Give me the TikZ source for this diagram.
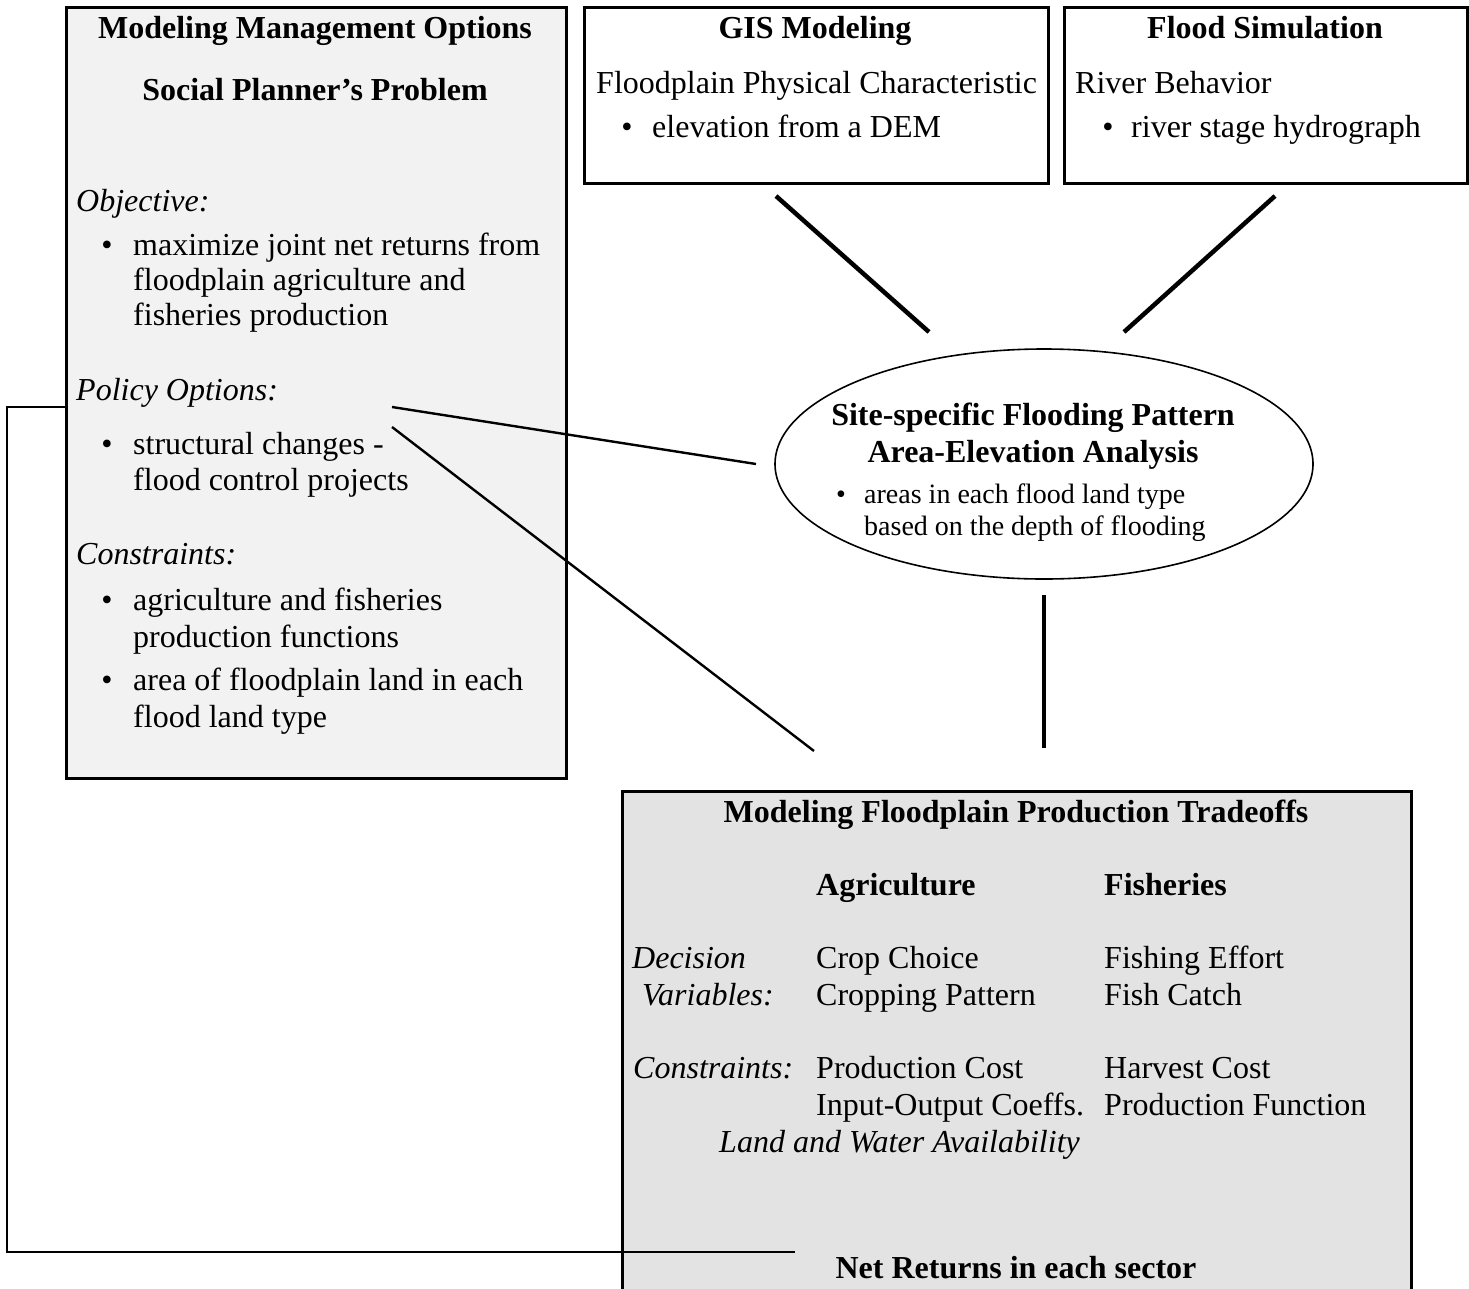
\documentclass[tikz,border=0pt]{standalone}
\usepackage{fontspec}
\setmainfont{Liberation Serif}
\usetikzlibrary{shapes.geometric}
\definecolor{boxA}{HTML}{F2F2F2}
\definecolor{boxB}{HTML}{E3E3E3}
\begin{document}
\begin{tikzpicture}[x=1pt,y=-1pt,
  frame/.style={draw=black, line width=3pt, rectangle, inner sep=0pt, anchor=north west},
  t/.style={anchor=base west, inner sep=0pt, font=\fontsize{32}{37}\selectfont},
  tb/.style={anchor=base west, inner sep=0pt, font=\fontsize{32}{37}\selectfont\bfseries},
  ti/.style={anchor=base west, inner sep=0pt, font=\fontsize{32}{37}\selectfont\itshape},
  tc/.style={anchor=base, inner sep=0pt, font=\fontsize{32}{37}\selectfont\bfseries},
  bul/.style={anchor=base, inner sep=0pt, font=\fontsize{32}{37}\selectfont},
  sm/.style={anchor=base west, inner sep=0pt, font=\fontsize{28}{32}\selectfont},
  smbul/.style={anchor=base, inner sep=0pt, font=\fontsize{28}{32}\selectfont},
  heavy/.style={line width=4.5pt},
  light/.style={line width=2.4pt}
]
\useasboundingbox (0,0) rectangle (1469,1288);

% boxes
\node[frame, fill=boxA, minimum width=500pt, minimum height=771pt] (mgmt) at (65,6) {};
\node[frame, fill=white, minimum width=464pt, minimum height=176pt] (gis) at (583,6) {};
\node[frame, fill=white, minimum width=403pt, minimum height=176pt] (flood) at (1063,6) {};
\node[draw, ellipse, line width=1.6pt, fill=white, minimum width=538pt, minimum height=230pt, inner sep=0pt] (site) at (1044,464) {};
\node[frame, fill=boxB, minimum width=789pt, minimum height=499pt] (prod) at (621,790) {};

% left box text
\node[tc] (m1) at (315,38) {Modeling Management Options};
\node[tc] (m2) at (315,100) {Social Planner's Problem};
\node[ti] (m3) at (76,211) {Objective:};
\node[bul] (m4b) at (107,255) {\textbullet};
\node[t] (m4) at (133,255) {maximize joint net returns from};
\node[t] (m5) at (133,290) {floodplain agriculture and};
\node[t] (m6) at (133,325) {fisheries production};
\node[ti] (m7) at (76,400) {Policy Options:};
\node[bul] (m8b) at (107,454) {\textbullet};
\node[t] (m8) at (133,454) {structural changes -};
\node[t] (m9) at (133,490) {flood control projects};
\node[ti] (m10) at (76,564) {Constraints:};
\node[bul] (m11b) at (107,610) {\textbullet};
\node[t] (m11) at (133,610) {agriculture and fisheries};
\node[t] (m12) at (133,647) {production functions};
\node[bul] (m13b) at (107,690) {\textbullet};
\node[t] (m13) at (133,690) {area of floodplain land in each};
\node[t] (m14) at (133,727) {flood land type};

% GIS box text
\node[tc] (g1) at (815,38) {GIS Modeling};
\node[t] (g2) at (596,93) {Floodplain Physical Characteristic};
\node[bul] (g3b) at (627,137) {\textbullet};
\node[t] (g3) at (652,137) {elevation from a DEM};

% Flood box text
\node[tc] (f1) at (1265,38) {Flood Simulation};
\node[t] (f2) at (1075,93) {River Behavior};
\node[bul] (f3b) at (1108,137) {\textbullet};
\node[t] (f3) at (1131,137) {river stage hydrograph};

% ellipse text
\node[tc] (s1) at (1033,425) {Site-specific Flooding Pattern};
\node[tc] (s2) at (1033,462) {Area-Elevation Analysis};
\node[smbul] (s3b) at (841,503) {\textbullet};
\node[sm] (s3) at (864,503) {areas in each flood land type};
\node[sm] (s4) at (864,535) {based on the depth of flooding};

% production box text
\node[tc] (p1) at (1016,822) {Modeling Floodplain Production Tradeoffs};
\node[tb] (p2) at (816,895) {Agriculture};
\node[tb] (p3) at (1104,895) {Fisheries};
\node[ti] (p4) at (632,968) {Decision};
\node[t] (p5) at (816,968) {Crop Choice};
\node[t] (p6) at (1104,968) {Fishing Effort};
\node[ti] (p7) at (642,1005) {Variables:};
\node[t] (p8) at (816,1005) {Cropping Pattern};
\node[t] (p9) at (1104,1005) {Fish Catch};
\node[ti] (p10) at (633,1078) {Constraints:};
\node[t] (p11) at (816,1078) {Production Cost};
\node[t] (p12) at (1104,1078) {Harvest Cost};
\node[t] (p13) at (816,1115) {Input-Output Coeffs.};
\node[t] (p14) at (1104,1115) {Production Function};
\node[ti] (p15) at (719,1152) {Land and Water Availability};
\node[tc] (p16) at (1016,1278) {Net Returns in each sector};

% connector end points
\coordinate (gA) at (776,196);
\coordinate (gB) at (929,332);
\coordinate (fA) at (1275,196);
\coordinate (fB) at (1124,332);
\coordinate (sA) at (1044,595);
\coordinate (sB) at (1044,748);
\coordinate (pA) at (392,407);
\coordinate (pB) at (756,464);
\coordinate (qA) at (392,427);
\coordinate (qB) at (814,751);
\coordinate (fbA) at (65,407);
\coordinate (fbC) at (795,1252);

% connectors
\draw[heavy] (gA) -- (gB);
\draw[heavy] (fA) -- (fB);
\draw[heavy] (sA) -- (sB);
\draw[light] (pA) -- (pB);
\draw[light] (qA) -- (qB);
\draw[light] (fbA) -- ++(-58,0) |- (fbC);
\end{tikzpicture}
\end{document}
